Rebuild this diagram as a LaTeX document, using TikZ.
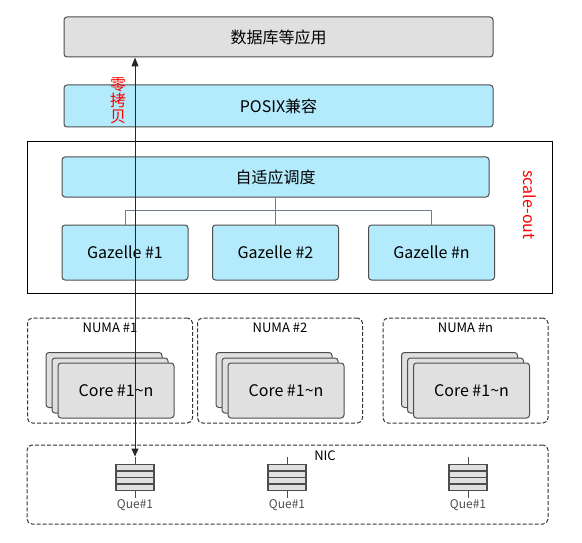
\documentclass[tikz,border=0pt]{standalone}
\usepackage{fontspec}
\setmainfont{Noto Sans CJK SC}
\usetikzlibrary{arrows.meta, positioning}
\definecolor{boxgray}{HTML}{E0E0E0}
\definecolor{boxblue}{HTML}{B3EBFC}
\definecolor{edgegray}{HTML}{4D4D4D}
\definecolor{treegray}{HTML}{6E7E8E}

\begin{document}
\begin{tikzpicture}[x=1pt, y=-1pt, line width=1pt,
  appbox/.style={draw=edgegray, fill=boxgray, rounded corners=3pt, font=\fontsize{16}{18}\selectfont},
  bluebox/.style={draw=edgegray, fill=boxblue, rounded corners=3pt, font=\fontsize{16}{18}\selectfont},
  numabox/.style={draw=black!80, dash pattern=on 4pt off 2pt, rounded corners=5pt, minimum width=165pt, minimum height=105pt},
  corebox/.style={draw=edgegray, fill=boxgray, rounded corners=3pt, minimum width=116pt, minimum height=55pt, font=\fontsize{16}{18}\selectfont},
  qbar/.style={draw=edgegray, fill=boxgray, line width=1.2pt},
  small/.style={font=\fontsize{13}{15}\selectfont, inner sep=2pt},
]
\useasboundingbox (0,0) rectangle (582,543);

% 应用层
\node[appbox, minimum width=429pt, minimum height=40pt] (app) at (278.5,37) {数据库等应用};
\node[bluebox, minimum width=429pt, minimum height=42pt] (posix) at (278.5,106) {POSIX兼容};

% scale-out
\node[draw=black, minimum width=525pt, minimum height=151pt] (scale) at (289.5,217.5) {};
\node[bluebox, minimum width=427pt, minimum height=40pt] (sched) at (275.5,177) {自适应调度};
\foreach \i/\x in {1/125, 2/275.5, n/431.5}
  \node[bluebox, minimum width=126pt, minimum height=55pt] (g\i) at (\x,252.5) {Gazelle \#\i};
\draw[treegray] (sched.south) -- (g2.north);
\draw[treegray] (g1.north) -- ++(0,-14) -| (gn.north);
\node[red, rotate=-90, font=\fontsize{16}{18}\selectfont] (scaleout) at (530,205) {scale-out};
\node[red, align=center, font=\fontsize{16}{16}\selectfont, inner sep=0pt] (zero) at (118,101) {零\\拷\\贝};

% NUMA
\foreach \i/\x in {1/110, 2/280, n/465.5} {
  \node[numabox] (numa\i) at (\x,370.5) {};
  \node[small, below=2.5pt of numa\i.north] (numa\i label) {NUMA \#\i};
  \node[corebox] (core\i c) at (\x-6,380) {};
  \node[corebox] (core\i b) at (\x,385.5) {};
  \node[corebox] (core\i a) at (\x+6,390.5) {Core \#1\textasciitilde n};
}

% NIC
\node[numabox, minimum width=521pt, minimum height=79pt] (nic) at (287.5,484.5) {};
\node[small] (niclabel) at (325,456) {NIC};
\foreach \i/\x in {1/135, 2/287, 3/468} {
  \node[minimum width=38pt, minimum height=26pt, inner sep=0pt] (q\i) at (\x,477.5) {};
  \foreach \j in {0,...,3}
    \draw[qbar] (\x-19,464.5+\j*6.5) rectangle ++(38,6.5);
  \draw[edgegray] (q\i.north) -- ++(0,-7);
  \draw[edgegray] (q\i.south) -- ++(0,7) node[below, inner sep=1pt, font=\fontsize{12}{14}\selectfont] (q\i label) {Que\#1};
}

% 零拷贝
\coordinate (zctop) at (app.south -| q1.north);
\path (q1.north) ++(0,-7.5) coordinate (zcbot);
\draw[{Triangle[length=9pt,width=7pt]}-{Triangle[length=8pt,width=7pt]}, black!85] (zctop) -- (zcbot);
\end{tikzpicture}
\end{document}
